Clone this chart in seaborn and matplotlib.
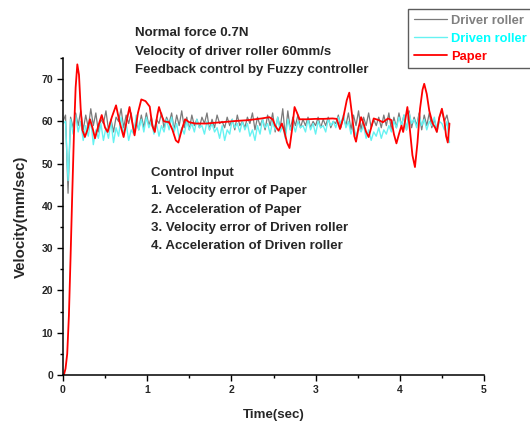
import numpy as np
import pandas as pd
import matplotlib
matplotlib.use("Agg")
import matplotlib.pyplot as plt
import seaborn as sns
from matplotlib.ticker import MultipleLocator

# ---------------- data ----------------
dt_samples = 0.03
driver_roller = [
    60.0, 61.5, 43.0, 61.0, 58.5, 62.0, 59.0, 62.5, 58.0, 61.5,
    58.5, 63.0, 59.0, 62.0, 57.5, 60.5, 59.5, 62.5, 58.0, 60.5,
    57.5, 61.0, 60.0, 63.0, 58.5, 61.5, 59.5, 62.0, 57.5, 60.0,
    58.0, 61.5, 58.5, 62.0, 59.0, 61.0, 57.5, 60.5, 59.5, 62.0,
    58.5, 61.0, 59.5, 62.0, 58.0, 61.5, 59.0, 62.5, 58.5, 61.0,
    58.0, 61.5, 59.0, 60.5, 58.5, 61.0, 59.5, 62.0, 58.0, 60.5,
    58.5, 61.5, 59.5, 60.0, 58.5, 61.0, 59.0, 60.5, 58.0, 61.5,
    59.0, 60.0, 58.5, 61.0, 59.5, 62.0, 58.0, 61.0, 59.0, 60.5,
    58.0, 61.5, 59.0, 62.0, 57.5, 61.0, 58.5, 63.0, 56.5, 62.5,
    58.0, 61.0, 59.0, 61.5, 58.5, 60.5, 59.0, 61.0, 58.5, 60.0,
    59.0, 61.0, 58.5, 60.5, 59.0, 61.0, 58.5, 60.0, 59.5, 61.5,
    58.5, 61.0, 59.0, 62.0, 58.0, 61.5, 59.0, 62.5, 58.0, 61.0,
    59.0, 62.0, 58.5, 60.5, 59.0, 61.0, 58.5, 61.5, 59.0, 62.0,
    58.0, 61.0, 58.5, 62.0, 59.0, 61.5, 58.0, 62.5, 58.5, 61.0,
    59.0, 62.0, 58.0, 61.5, 59.0, 62.0, 58.5, 60.5, 58.0, 61.0,
    62.5, 60.0, 61.5, 58.5,
]
driven_roller = [
    59.5, 60.0, 46.0, 60.5, 57.0, 61.5, 57.5, 60.0, 55.5, 59.0,
    56.5, 60.5, 54.5, 58.0, 56.0, 59.5, 55.5, 58.5, 56.0, 60.0,
    55.0, 58.5, 56.5, 61.0, 57.0, 59.5, 55.5, 58.0, 57.0, 61.5,
    58.0, 60.5, 57.5, 61.0, 58.5, 60.0, 57.0, 59.5, 56.5, 59.0,
    57.5, 60.5, 58.0, 61.0, 57.5, 59.5, 56.0, 58.5, 57.0, 60.0,
    58.0, 59.5, 57.5, 60.5, 58.5, 59.0, 57.0, 60.0, 58.0, 59.5,
    57.5, 58.5, 56.0, 59.0, 55.5, 58.0, 57.0, 60.5, 58.5, 59.5,
    57.5, 60.0, 58.0, 59.5, 56.5, 58.0, 55.5, 59.0, 57.0, 60.5,
    58.5, 59.5, 57.0, 60.0, 58.0, 61.0, 57.5, 59.0, 56.0, 60.5,
    58.0, 59.5, 57.5, 60.0, 58.5, 59.0, 57.5, 60.5, 58.0, 59.5,
    57.0, 60.0, 58.5, 59.0, 57.5, 60.5, 59.0, 60.0, 58.5, 61.0,
    59.5, 61.5, 58.5, 60.0, 57.0, 59.0, 56.5, 58.5, 57.5, 59.0,
    56.0, 58.0, 55.5, 57.5, 56.5, 58.5, 56.0, 58.0, 57.0, 59.0,
    57.5, 60.0, 58.5, 61.0, 59.0, 61.5, 58.0, 62.0, 59.5, 60.5,
    58.5, 61.5, 59.0, 60.5, 58.0, 60.0, 59.0, 61.0, 57.5, 60.0,
    59.5, 58.0, 60.0, 55.0,
]
paper_time = [
    0.01, 0.03, 0.05, 0.07, 0.09, 0.11, 0.13, 0.15, 0.17, 0.19,
    0.21, 0.23, 0.26, 0.29, 0.32, 0.35, 0.38, 0.42, 0.46, 0.50,
    0.53, 0.58, 0.63, 0.67, 0.72, 0.76, 0.79, 0.82, 0.85, 0.89,
    0.93, 0.98, 1.03, 1.06, 1.09, 1.12, 1.14, 1.17, 1.20, 1.26,
    1.30, 1.34, 1.37, 1.41, 1.45, 1.50, 1.57, 1.70, 1.88, 2.05,
    2.20, 2.36, 2.45, 2.49, 2.52, 2.56, 2.60, 2.63, 2.66, 2.69,
    2.72, 2.75, 2.78, 2.81, 2.90, 3.00, 3.10, 3.20, 3.25, 3.29,
    3.33, 3.37, 3.40, 3.43, 3.46, 3.48, 3.51, 3.54, 3.57, 3.60,
    3.63, 3.66, 3.69, 3.75, 3.80, 3.86, 3.90, 3.93, 3.96, 3.99,
    4.02, 4.04, 4.07, 4.09, 4.12, 4.15, 4.18, 4.21, 4.24, 4.27,
    4.29, 4.32, 4.35, 4.39, 4.42, 4.44, 4.47, 4.50, 4.53, 4.55,
    4.57, 4.59,
]
paper_velocity = [
    0.0, 1.5, 5.0, 14.0, 28.0, 43.0, 57.0, 68.0, 73.5, 71.0,
    63.0, 58.0, 56.3, 58.0, 60.5, 58.5, 56.0, 59.0, 61.5, 58.5,
    57.5, 61.0, 63.8, 60.0, 56.3, 60.5, 63.4, 60.0, 56.7, 62.0,
    65.2, 64.8, 63.5, 59.0, 57.5, 61.5, 63.4, 61.5, 60.0, 59.8,
    58.0, 55.5, 55.0, 58.0, 60.5, 59.8, 59.5, 59.5, 59.8, 60.1,
    60.3, 60.7, 61.0, 60.5, 59.0, 57.8, 59.5, 57.5, 55.0, 53.7,
    58.0, 63.4, 62.0, 60.5, 60.5, 60.6, 60.6, 60.7, 60.6, 58.2,
    61.0, 65.0, 66.8, 62.0, 56.5, 55.2, 58.5, 61.0, 59.5, 57.5,
    56.3, 58.5, 60.7, 60.3, 59.8, 60.7, 60.3, 57.0, 54.8, 57.0,
    59.0, 57.5, 61.0, 63.4, 58.0, 52.0, 49.2, 55.0, 63.0, 67.5,
    68.9, 66.5, 62.5, 59.5, 58.5, 57.5, 61.0, 63.0, 60.0, 56.5,
    55.0, 59.5,
]
series_labels = ["Driver roller", "Driven roller", "Paper"]
x_ticks = [0, 1, 2, 3, 4, 5]
y_ticks = [0, 10, 20, 30, 40, 50, 60, 70]
title_lines = ["Normal force 0.7N", "Velocity of driver roller 60mm/s",
               "Feedback control by Fuzzy controller"]
control_lines = ["Control Input", "1. Velocity error of Paper", "2. Acceleration of Paper",
                 "3. Velocity error of Driven roller", "4. Acceleration of Driven roller"]

# ---------------- style ----------------
sns.set_style("ticks")
plt.rcParams["font.family"] = ["Liberation Sans", "DejaVu Sans"]
plt.rcParams["font.weight"] = "bold"

W, H = 530, 423
fig = plt.figure(figsize=(W / 100, H / 100), dpi=100)
ax = fig.add_axes([63 / W, 1 - 375 / H, (484 - 63) / W, (375 - 58) / H])

t_grid = np.arange(len(driver_roller)) * dt_samples
df_driver = pd.DataFrame({"t": t_grid, "v": driver_roller})
df_driven = pd.DataFrame({"t": t_grid, "v": driven_roller})
df_paper = pd.DataFrame({"t": paper_time, "v": paper_velocity})

c_driver, c_driven, c_paper = "#7a7a7a", "#66f2f2", "#ff0000"
sns.lineplot(data=df_driver, x="t", y="v", ax=ax, color=c_driver, lw=0.9,
             label=series_labels[0], estimator=None, sort=False)
sns.lineplot(data=df_driven, x="t", y="v", ax=ax, color=c_driven, lw=1.0,
             label=series_labels[1], estimator=None, sort=False)
sns.lineplot(data=df_paper, x="t", y="v", ax=ax, color=c_paper, lw=1.3,
             label=series_labels[2], estimator=None, sort=False)

ax.set_xlim(0, 5)
ax.set_ylim(0, 75)
ax.set_xticks(x_ticks)
ax.set_yticks(y_ticks)
ax.xaxis.set_minor_locator(MultipleLocator(0.5))
ax.yaxis.set_minor_locator(MultipleLocator(5))
ax.tick_params(which="major", direction="out", length=4, width=1.0,
               labelsize=7.5, pad=3, color="black")
ax.tick_params(which="minor", direction="out", length=2.5, width=1.0, color="black")
for lab in ax.get_xticklabels() + ax.get_yticklabels():
    lab.set_fontweight("bold")
sns.despine(ax=ax)
for s in ["left", "bottom"]:
    ax.spines[s].set_linewidth(1.1)
    ax.spines[s].set_color("black")

ax.set_xlabel("Time(sec)", fontsize=9.6, fontweight="bold", labelpad=10)
ax.set_ylabel("Velocity(mm/sec)", fontsize=10.8, fontweight="bold", labelpad=10)

ax.get_legend().remove()
handles, labels = ax.get_legend_handles_labels()
leg = fig.legend(handles, labels, loc="upper left", bbox_to_anchor=(408 / W, 1 - 9 / H),
                 borderaxespad=0, frameon=True, fancybox=False,
                 handlelength=2.55, handletextpad=0.35, borderpad=0.45, labelspacing=0.45,
                 prop={"weight": "bold", "size": 9.3})
leg.get_frame().set_edgecolor("#333333")
leg.get_frame().set_linewidth(1.0)
for txt, col in zip(leg.get_texts(), ["#808080", "#00ffff", "#ff0000"]):
    txt.set_color(col)

for i, s in enumerate(title_lines):
    fig.text(135 / W, 1 - (33 + 18.5 * i) / H, s, fontsize=9.5, fontweight="bold",
             ha="left", va="center")
for i, s in enumerate(control_lines):
    fig.text(151 / W, 1 - (173 + 18.3 * i) / H, s, fontsize=9.5, fontweight="bold",
             ha="left", va="center")

fig.savefig("out.png", dpi=100)
